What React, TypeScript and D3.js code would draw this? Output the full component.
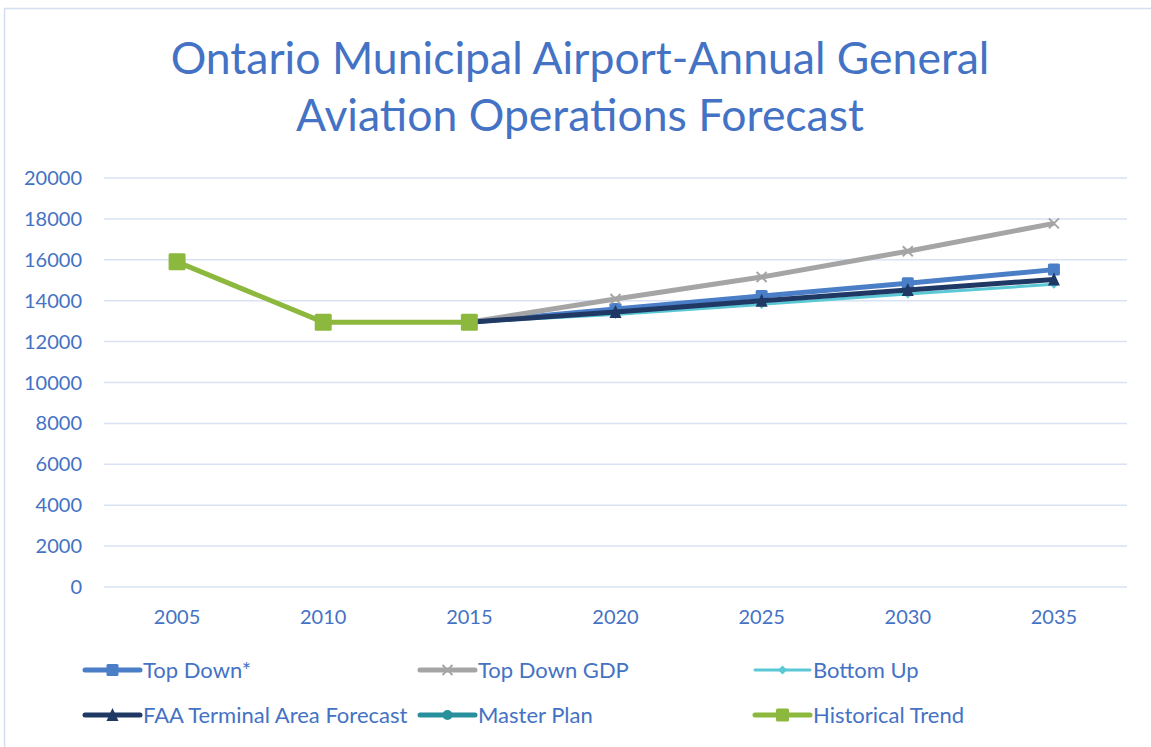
import React from 'react';
import * as d3 from 'd3';

const years = ['2005', '2010', '2015', '2020', '2025', '2030', '2035'];
const yTicks = [0, 2000, 4000, 6000, 8000, 10000, 12000, 14000, 16000, 18000, 20000];

const topDown = [null, null, 12950, 13600, 14230, 14850, 15520];
const topDownGdp = [null, null, 12950, 14080, 15160, 16420, 17780];
const bottomUp = [null, null, 12950, 13330, 13820, 14330, 14800];
const faaTaf = [null, null, 12950, 13450, 14000, 14520, 15040];
const masterPlan = [null, null, 12950, null, null, null, null];
const historical = [15900, 12950, 12950, null, null, null, null];

type Series = {
  name: string;
  values: (number | null)[];
  color: string;
  width: number;
  marker: 'square' | 'x' | 'diamond' | 'triangle' | 'circle';
  size: number;
};

const series: Series[] = [
  {name: 'Top Down*', values: topDown, color: '#4a7ec7', width: 5, marker: 'square', size: 12},
  {name: 'Top Down GDP', values: topDownGdp, color: '#a5a5a5', width: 5, marker: 'x', size: 10},
  {name: 'Bottom Up', values: bottomUp, color: '#5bc8d6', width: 3, marker: 'diamond', size: 9},
  {name: 'FAA Terminal Area Forecast', values: faaTaf, color: '#1f3864', width: 5, marker: 'triangle', size: 12},
  {name: 'Master Plan', values: masterPlan, color: '#27909c', width: 5, marker: 'circle', size: 10},
  {name: 'Historical Trend', values: historical, color: '#8db83e', width: 5, marker: 'square', size: 17},
];

const textColor = '#4472c4';
const font = 'Lato, "Open Sans", sans-serif';

function Marker({type, x, y, size, color}: {type: Series['marker'], x: number, y: number, size: number, color: string}) {
  const h = size / 2;
  if (type === 'square') {
    return <rect x={x - h} y={y - h} width={size} height={size} rx={1.5} fill={color}/>;
  }
  if (type === 'x') {
    return <path d={`M${x - h},${y - h}L${x + h},${y + h}M${x - h},${y + h}L${x + h},${y - h}`} stroke={color} strokeWidth={2}/>;
  }
  if (type === 'diamond') {
    return <path d={`M${x},${y - h}L${x + h},${y}L${x},${y + h}L${x - h},${y}Z`} fill={color}/>;
  }
  if (type === 'triangle') {
    return <path d={`M${x},${y - h - 1}L${x + h},${y + h}L${x - h},${y + h}Z`} fill={color}/>;
  }
  return <circle cx={x} cy={y} r={h} fill={color}/>;
}

export default function App() {
  const width = 1151;
  const height = 747;

  const x = d3.scaleBand().domain(years).range([104, 1127]);
  const y = d3.scaleLinear().domain([0, 20000]).range([587, 178]);
  const cx = (yr: string) => (x(yr) as number) + x.bandwidth() / 2;

  const line = d3.line<[string, number | null]>()
    .defined((d) => d[1] !== null)
    .x((d) => cx(d[0]))
    .y((d) => y(d[1] as number));

  const legendCols = [85, 420, 755];
  const legendRows = [670, 715];

  return (
    <svg width={width} height={height} style={{position: 'absolute', left: 0, top: 0, fontFamily: font}}>
      <rect x={0} y={0} width={width} height={height} fill="#ffffff"/>
      <rect x={4.5} y={8.5} width={width + 20} height={height + 20} fill="none" stroke="#d4def0" strokeWidth={1.5}/>

      {/* title */}
      <text x={580} y={74} textAnchor="middle" fontSize={44.5} fill={textColor}>Ontario Municipal Airport-Annual General</text>
      <text x={580} y={131} textAnchor="middle" fontSize={44.5} fill={textColor}>Aviation Operations Forecast</text>

      {/* gridlines and y labels */}
      {yTicks.map((t) => (
        <g key={t}>
          <line x1={104} x2={1127} y1={y(t)} y2={y(t)} stroke="#d9e2f3" strokeWidth={1.5}/>
          <text x={82} y={y(t)} dy="0.35em" textAnchor="end" fontSize={20} fill={textColor}>{t}</text>
        </g>
      ))}

      {/* x labels */}
      {years.map((yr) => (
        <text key={yr} x={cx(yr)} y={624} textAnchor="middle" fontSize={20} fill={textColor}>{yr}</text>
      ))}

      {/* series */}
      {series.map((s) => {
        const pts = years.map((yr, i) => [yr, s.values[i]] as [string, number | null]);
        return (
          <g key={s.name}>
            <path d={line(pts) || ''} fill="none" stroke={s.color} strokeWidth={s.width} strokeLinejoin="round"/>
            {pts.filter((p) => p[1] !== null).map((p) => (
              <Marker key={p[0]} type={s.marker} x={cx(p[0])} y={y(p[1] as number)} size={s.size} color={s.color}/>
            ))}
          </g>
        );
      })}

      {/* legend */}
      {series.map((s, i) => {
        const lx = legendCols[i % 3];
        const ly = legendRows[Math.floor(i / 3)];
        return (
          <g key={s.name}>
            <line x1={lx} x2={lx + 55} y1={ly} y2={ly} stroke={s.color} strokeWidth={s.width} strokeLinecap="round"/>
            <Marker type={s.marker} x={lx + 27.5} y={ly} size={Math.min(s.size, 13)} color={s.color}/>
            <text x={lx + 58} y={ly} dy="0.35em" fontSize={22} fill={textColor}>{s.name}</text>
          </g>
        );
      })}
    </svg>
  );
}
